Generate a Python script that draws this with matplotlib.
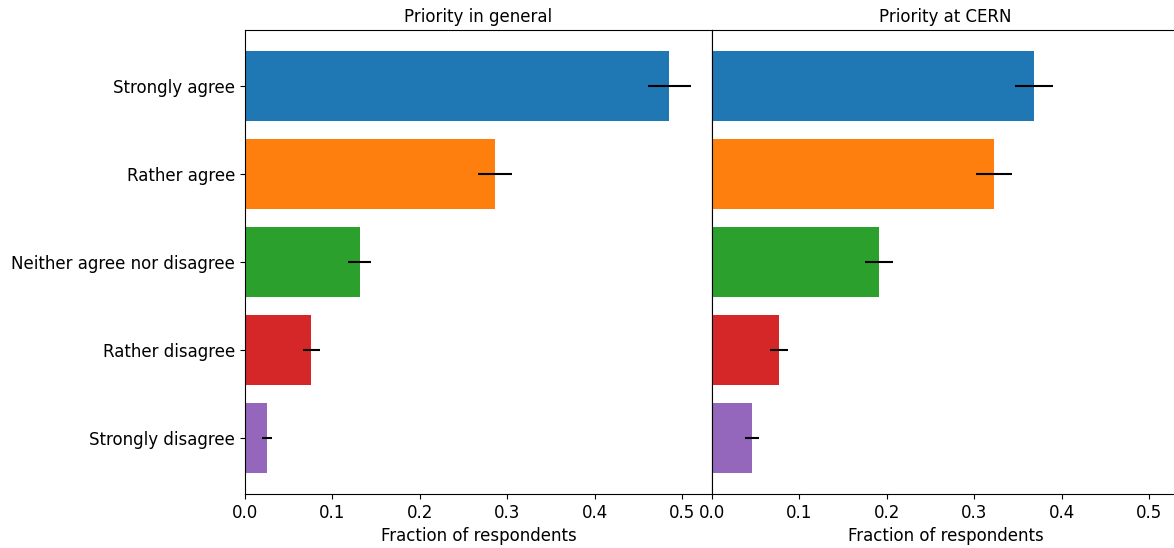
import matplotlib.pyplot as plt

categories = ["Strongly agree", "Rather agree", "Neither agree nor disagree",
              "Rather disagree", "Strongly disagree"]
general_frac = [0.485, 0.286, 0.131, 0.0755, 0.025]
general_err = [0.0245, 0.019, 0.013, 0.0097, 0.0057]
cern_frac = [0.368, 0.323, 0.191, 0.0765, 0.0455]
cern_err = [0.0217, 0.0206, 0.016, 0.0103, 0.008]
titles = ["Priority in general", "Priority at CERN"]

colors = ["#1f77b4", "#ff7f0e", "#2ca02c", "#d62728", "#9467bd"]

fig = plt.figure(figsize=(11.74, 5.48), dpi=100)
W, H = 1174, 548
ax1 = fig.add_axes([245 / W, 54 / H, 467 / W, 464 / H])
ax2 = fig.add_axes([712 / W, 54 / H, 467 / W, 464 / H])

ypos = list(range(len(categories)))
for ax, vals, errs, title in [(ax1, general_frac, general_err, titles[0]),
                              (ax2, cern_frac, cern_err, titles[1])]:
    ax.barh(ypos, vals, xerr=errs, color=colors, height=0.8,
            error_kw=dict(ecolor="black", elinewidth=1.5, capsize=0))
    ax.set_xlim(0, 0.534)
    ax.invert_yaxis()
    ax.set_xticks([0.0, 0.1, 0.2, 0.3, 0.4, 0.5])
    ax.set_xticklabels(["0.0", "0.1", "0.2", "0.3", "0.4", "0.5"], fontsize=12)
    ax.set_xlabel("Fraction of respondents", fontsize=12)
    ax.set_title(title, fontsize=12)

ax1.set_yticks(ypos)
ax1.set_yticklabels(categories, fontsize=12)
ax2.set_yticks([])

fig.savefig("out.png", dpi=100)
